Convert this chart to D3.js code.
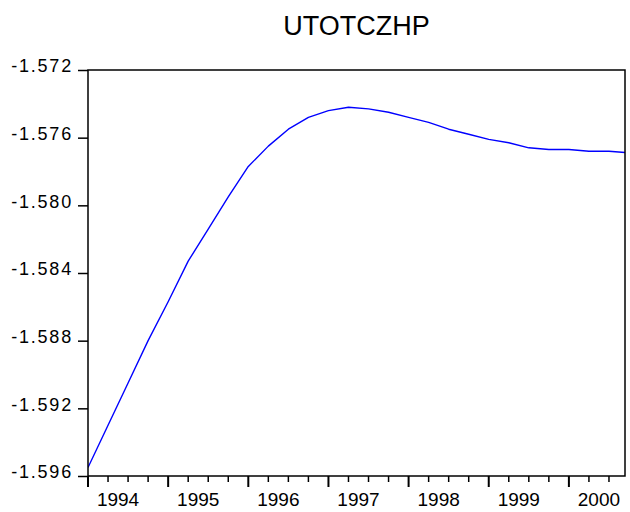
<!DOCTYPE html>
<html>
<head>
<meta charset="utf-8">
<title>UTOTCZHP</title>
<style>
  body { margin: 0; background: #fff; }
  text { font-family: "Liberation Sans", Arial, sans-serif; fill: #000; }
</style>
</head>
<body>
<div id="container"></div>
<script src="https://d3js.org/d3.v7.min.js"></script>
<script>

// quarterly series, 1994Q1 onwards
const quarters = d3.range(28).map(i => 1994 + i / 4);
const values = [
  -1.5955, -1.5930, -1.5905, -1.5880, -1.5857, -1.5833, -1.5814, -1.5795,
  -1.5777, -1.5765, -1.5755, -1.5748, -1.5744, -1.5742, -1.5743, -1.5745,
  -1.5748, -1.5751, -1.5755, -1.5758, -1.5761, -1.5763, -1.5766, -1.5767,
  -1.5767, -1.5768, -1.5768, -1.5769
];
const yTicks = [-1.572, -1.576, -1.580, -1.584, -1.588, -1.592, -1.596];
const yearLabels = [1994, 1995, 1996, 1997, 1998, 1999, 2000];
const title = "UTOTCZHP";

const width = 630;
const height = 512;
const margin = {top: 70, right: 5, bottom: 36, left: 88};

const data = quarters.map((q, i) => ({q: q, value: values[i]}));

const x = d3.scaleLinear()
  .domain([1994, 2000.7])
  .range([margin.left, width - margin.right]);

const y = d3.scaleLinear()
  .domain([-1.596, -1.572])
  .range([height - margin.bottom, margin.top]);

const svg = d3.select("#container")
  .append("svg")
    .attr("width", width)
    .attr("height", height);

svg.append("defs").append("clipPath")
    .attr("id", "plot")
  .append("rect")
    .attr("x", x.range()[0])
    .attr("y", y.range()[1])
    .attr("width", x.range()[1] - x.range()[0])
    .attr("height", y.range()[0] - y.range()[1]);

// the line
const line = d3.line()
  .x(d => x(d.q))
  .y(d => y(d.value));

svg.append("path")
    .datum(data)
    .attr("clip-path", "url(#plot)")
    .attr("d", line)
    .style("fill", "none")
    .style("stroke", "#0000ff")
    .style("stroke-width", 1.4)
    .style("stroke-linejoin", "round");

// frame
svg.append("rect")
    .attr("x", x.range()[0])
    .attr("y", y.range()[1])
    .attr("width", x.range()[1] - x.range()[0])
    .attr("height", y.range()[0] - y.range()[1])
    .style("fill", "none")
    .style("stroke", "#000")
    .style("stroke-width", 1.5);

// y axis (plain hyphen for the minus sign, like the original)
const fmt = d => d3.format(".3f")(d).replace("\u2212", "-");

const yAxis = svg.append("g")
    .attr("transform", `translate(${margin.left},0)`)
    .call(d3.axisLeft(y)
      .tickValues(yTicks)
      .tickSize(10)
      .tickPadding(5)
      .tickFormat(fmt));

yAxis.select(".domain").remove();
yAxis.selectAll(".tick line").style("stroke-width", 1.5);
yAxis.selectAll(".tick text")
    .attr("dy", "0.1em")
    .style("font-size", "18px")
    .style("letter-spacing", "1.8px")
    .style("font-family", "'Liberation Sans', Arial, sans-serif");

// x axis: quarterly ticks, long at the start of each year
const qTicks = quarters.filter(q => q <= x.domain()[1]);
const xAxis = svg.append("g")
    .attr("transform", `translate(0,${height - margin.bottom})`);

xAxis.selectAll("line")
    .data(qTicks)
  .enter().append("line")
    .attr("x1", d => x(d))
    .attr("x2", d => x(d))
    .attr("y1", 0)
    .attr("y2", (d, i) => i % 4 === 0 ? 11 : 6)
    .style("stroke", "#000")
    .style("stroke-width", (d, i) => i % 4 === 0 ? 2 : 1.5);

xAxis.selectAll("text")
    .data(yearLabels)
  .enter().append("text")
    .attr("x", d => x(d + 0.375))
    .attr("y", 30)
    .attr("text-anchor", "middle")
    .style("font-size", "19px")
    .text(d => d);

// title
svg.append("text")
    .attr("x", (x.range()[0] + x.range()[1]) / 2)
    .attr("y", 35)
    .attr("text-anchor", "middle")
    .style("font-size", "27px")
    .text(title);

</script>
</body>
</html>
